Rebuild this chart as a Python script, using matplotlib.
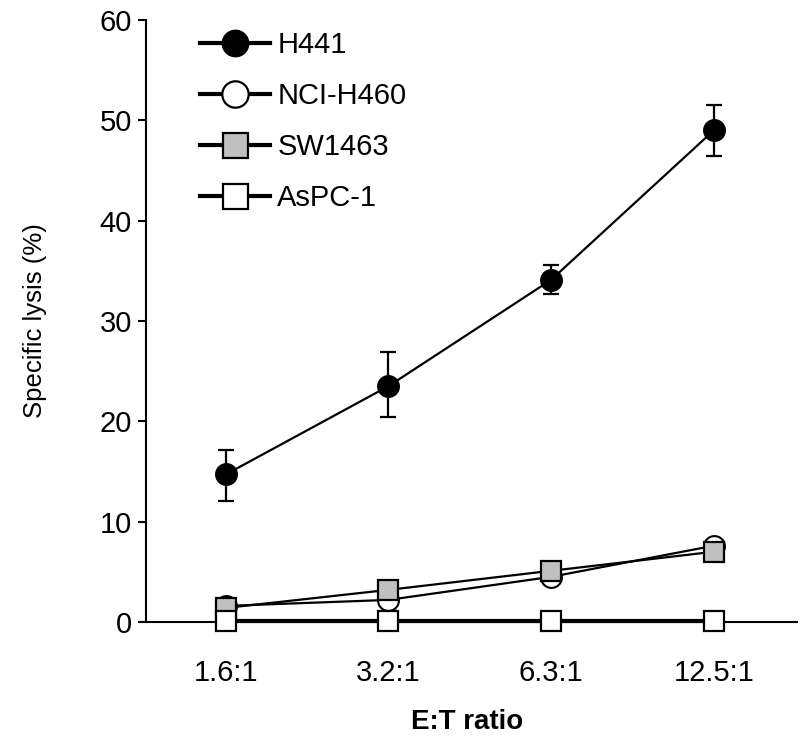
import matplotlib
matplotlib.use("Agg")
import matplotlib.pyplot as plt
from matplotlib.lines import Line2D

plt.rcParams['font.family'] = ['Liberation Sans', 'DejaVu Sans']

ratios = ['1.6:1', '3.2:1', '6.3:1', '12.5:1']
x = list(range(len(ratios)))

h441 = [14.7, 23.5, 34.1, 49.0]
h441_lo = [2.6, 3.1, 1.4, 2.6]
h441_hi = [2.4, 3.4, 1.5, 2.5]
h460 = [1.6, 2.2, 4.5, 7.6]
sw1463 = [1.4, 3.2, 5.1, 7.0]
aspc1 = [0.1, 0.1, 0.1, 0.1]

fig = plt.figure(figsize=(8, 7.51), dpi=100)
ax = fig.add_axes([0.1825, 0.1718, 0.8135, 0.8016])

ax.errorbar(x, h441, yerr=[h441_lo, h441_hi], color='black', lw=1.6,
            marker='o', ms=15.5, mfc='black', mec='black', capsize=6,
            elinewidth=1.6, capthick=1.6, clip_on=False, zorder=5)
ax.plot(x, h460, color='black', lw=1.6, marker='o', ms=15, mfc='white',
        mec='black', mew=1.5, clip_on=False, zorder=3)
ax.plot(x, sw1463, color='black', lw=1.6, marker='s', ms=15, mfc='#c0c0c0',
        mec='black', mew=1.6, clip_on=False, zorder=4)
ax.plot(x, aspc1, color='black', lw=3, marker='s', ms=15, mfc='white',
        mec='black', mew=1.6, clip_on=False, zorder=6)

ax.set_xlim(-0.49, 3.51)
ax.set_ylim(0, 60)
ax.set_yticks(range(0, 61, 10))
ax.set_xticks(x)
ax.set_xticklabels(ratios)
ax.tick_params(axis='x', length=0, pad=27, labelsize=21)
ax.tick_params(axis='y', length=6, width=1.5, direction='out', labelsize=21, pad=4)
for s in ['top', 'right']:
    ax.spines[s].set_visible(False)
ax.spines['left'].set_linewidth(1.5)
ax.spines['bottom'].set_linewidth(1.5)

ax.set_ylabel('Specific lysis (%)', fontsize=18.5)
ax.yaxis.set_label_coords(-0.152, 0.5)
ax.set_xlabel('E:T ratio', fontsize=20, fontweight='bold')
ax.xaxis.set_label_coords(0.493, -0.145)

handles = [
    Line2D([], [], color='black', lw=3, marker='o', ms=19, mfc='black', mec='black'),
    Line2D([], [], color='black', lw=3, marker='o', ms=19, mfc='white', mec='black', mew=1.6),
    Line2D([], [], color='black', lw=3, marker='s', ms=18, mfc='#c0c0c0', mec='black', mew=1.6),
    Line2D([], [], color='black', lw=3, marker='s', ms=18, mfc='white', mec='black', mew=1.6),
]
labels = ['H441', 'NCI-H460', 'SW1463', 'AsPC-1']
ax.legend(handles, labels, loc='upper left', bbox_to_anchor=(0.083, 0.982),
          frameon=False, fontsize=21, handlelength=2.4, handletextpad=0.25,
          labelspacing=0.79, borderpad=0, borderaxespad=0)

fig.savefig('out.png', dpi=100)
